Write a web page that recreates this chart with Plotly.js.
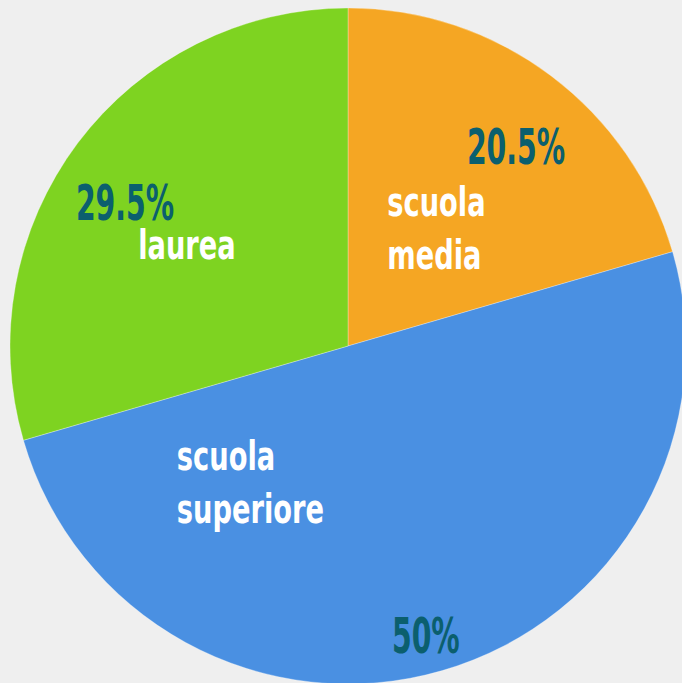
<!DOCTYPE html>
<html>
<head>
<meta charset="utf-8">
<script src="https://cdn.plot.ly/plotly-3.0.1.min.js"></script>
<style>
  html, body { margin:0; padding:0; width:682px; height:683px; overflow:hidden; background:#efefef; }
  #chart { position:absolute; left:10px; top:8px; width:676px; height:676px; }
</style>
</head>
<body>
<div id="chart"></div>
<script>
// Data
const categories = ["scuola media", "scuola superiore", "laurea"];
const values = [20.5, 50, 29.5];
const colors = ["#F5A623", "#4A90E2", "#7ED321"];

// Label placement (page pixels, text centres)
const pctPos = [[516, 147], [426, 636], [125, 203]];
const lblPos = [[437, 228], [250, 482], [187, 245]];

const W = 676, H = 676, OX = 10, OY = 8;
const px = x => (x - OX) / W;
const py = y => 1 - (y - OY) / H;

const fontFam = "'DejaVu Sans Condensed', 'DejaVu Sans', sans-serif";
const PCT_SCALE = 0.63, LBL_SCALE = 0.74;

const annotations = [];
categories.forEach((c, i) => {
  annotations.push({
    xref: "paper", yref: "paper",
    x: px(pctPos[i][0]), y: py(pctPos[i][1]),
    xanchor: "center", yanchor: "middle",
    text: values[i] + "%",
    showarrow: false,
    font: { family: fontFam, size: 50, weight: "bold", stretch: "condensed", color: "#0B5F6E" }
  });
  annotations.push({
    xref: "paper", yref: "paper",
    x: px(lblPos[i][0]), y: py(lblPos[i][1]),
    xanchor: "center", yanchor: "middle",
    align: "left",
    text: c.split(" ").join("<br>"),
    showarrow: false,
    font: { family: fontFam, size: 41, weight: "bold", stretch: "condensed", color: "#ffffff" }
  });
});

const trace = {
  type: "pie",
  labels: categories,
  values: values,
  marker: { colors: colors, line: { color: "rgba(255,255,255,0.6)", width: 0.5 } },
  sort: false,
  direction: "clockwise",
  rotation: 0,
  textinfo: "none",
  hoverinfo: "none",
  showlegend: false,
  domain: { x: [0, 1], y: [0, 1] }
};

const layout = {
  width: W, height: H,
  margin: { l: 0, r: 0, t: 0, b: 0, pad: 0 },
  paper_bgcolor: "rgba(0,0,0,0)",
  plot_bgcolor: "rgba(0,0,0,0)",
  showlegend: false,
  annotations: annotations
};

Plotly.newPlot("chart", [trace], layout, { displayModeBar: false, staticPlot: true }).then(() => {
  // narrow the lettering to imitate the condensed display face
  document.querySelectorAll("#chart g.annotation").forEach(g => {
    const idx = +g.getAttribute("data-index");
    const t = g.querySelector("text.annotation-text");
    if (!t) return;
    t.style.transformBox = "fill-box";
    t.style.transformOrigin = "center";
    t.style.transform = "scaleX(" + (idx % 2 === 0 ? PCT_SCALE : LBL_SCALE) + ")";
  });
});
</script>
</body>
</html>
